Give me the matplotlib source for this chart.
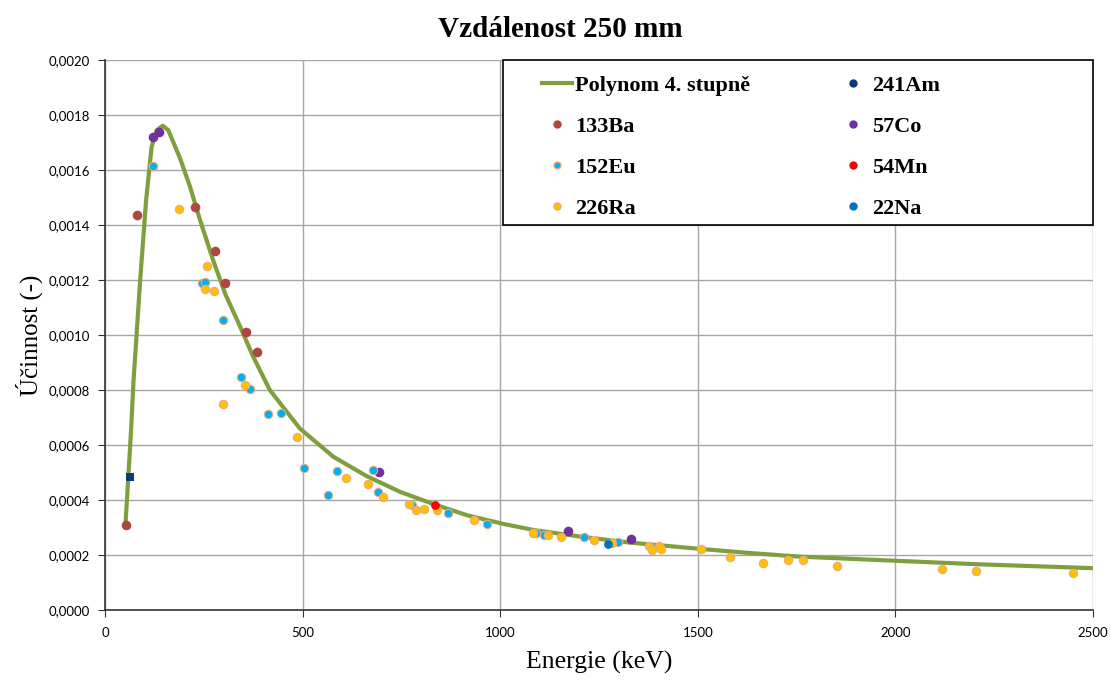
import matplotlib
matplotlib.use('Agg')
import matplotlib.pyplot as plt
from matplotlib.lines import Line2D
from matplotlib.patches import Rectangle
from matplotlib.ticker import FuncFormatter

# Data (energy in keV, efficiency)
ba_e = [53, 81, 227, 279, 304, 357, 385]
ba_eff = [0.000309, 0.001435, 0.001464, 0.001305, 0.00119, 0.001012, 0.000937]

co_e = [122, 137, 694, 1171, 1331]
co_eff = [0.001721, 0.001739, 0.000501, 0.000288, 0.000257]

eu_e = [122, 245, 254, 299, 345, 368, 412, 446, 503, 565, 587, 678, 692,
        778, 868, 966, 1090, 1112, 1213, 1299]
eu_eff = [0.001614, 0.00119, 0.001194, 0.001053, 0.000847, 0.000805, 0.000712,
          0.000715, 0.000517, 0.000418, 0.000505, 0.000508, 0.000429, 0.00038,
          0.000352, 0.000314, 0.000281, 0.000274, 0.000264, 0.000246]

ra_e = [186, 259, 254, 276, 355, 299, 487, 609, 665, 703, 768, 788, 807, 841,
        934, 1084, 1121, 1154, 1237, 1284, 1376, 1384, 1401, 1407, 1509, 1582,
        1664, 1729, 1765, 1851, 2118, 2205, 2450]
ra_eff = [0.001458, 0.00125, 0.001168, 0.001161, 0.000817, 0.00075, 0.000628,
          0.000481, 0.000459, 0.00041, 0.000385, 0.000362, 0.000368, 0.000364,
          0.000326, 0.000281, 0.000274, 0.000267, 0.000255, 0.000245, 0.000233,
          0.000217, 0.000233, 0.000222, 0.000223, 0.000192, 0.000172, 0.000182,
          0.000182, 0.00016, 0.000148, 0.000143, 0.000136]

am_e = [62]
am_eff = [0.000485]
mn_e = [835]
mn_eff = [0.000382]
na_e = [1273]
na_eff = [0.00024]

# 4th degree polynomial trend line
fit_e = [52, 59, 66, 72, 89, 104, 118, 131, 146, 160, 190, 215, 240, 274, 304,
         342, 375, 417, 493, 578, 662, 746, 831, 915, 1008, 1084, 1202, 1328,
         1500, 1624, 1758, 2000, 2214, 2500]
fit_eff = [0.000316, 0.000485, 0.000655, 0.00083, 0.0012, 0.00149, 0.001685,
           0.001745, 0.001761, 0.001745, 0.001642, 0.00154, 0.00142, 0.00127,
           0.00115, 0.00103, 0.000921, 0.0008, 0.00066, 0.000557, 0.000487,
           0.00043, 0.000385, 0.000345, 0.000313, 0.000291, 0.000267, 0.000245,
           0.000223, 0.000208, 0.000194, 0.000179, 0.000166, 0.000152]

serif = 'Liberation Serif'
edge = '#EBA982'

fig = plt.figure(figsize=(11.1, 6.84), dpi=100)
ax = fig.add_axes([0.0946, 0.1082, 0.8901, 0.8041])

ax.plot(fit_e, fit_eff, color='#7F9F3E', lw=3, zorder=2, solid_joinstyle='round')
ax.scatter(ba_e, ba_eff, s=48, color='#AE4642', zorder=3, linewidths=0)
ax.scatter(co_e, co_eff, s=48, color='#7030A0', zorder=3, linewidths=0)
ax.scatter(eu_e, eu_eff, s=36, color='#00B0F0', edgecolors=edge, linewidths=0.8, zorder=3)
ax.scatter(ra_e, ra_eff, s=36, color='#FFC000', edgecolors=edge, linewidths=0.8, zorder=3)
ax.scatter(am_e, am_eff, s=34, color='#0B3A7A', marker='s', zorder=4, linewidths=0)
ax.scatter(mn_e, mn_eff, s=40, color='#FF0000', zorder=4, linewidths=0)
ax.scatter(na_e, na_eff, s=40, color='#0070C0', zorder=4, linewidths=0)

ax.set_xlim(0, 2500)
ax.set_ylim(0, 0.002)
ax.set_xticks(range(0, 2501, 500))
ax.set_yticks([i * 0.0002 for i in range(11)])
ax.yaxis.set_major_formatter(FuncFormatter(lambda v, p: f'{v:.4f}'.replace('.', ',')))
ax.grid(True, color='#A6A6A6', lw=1)
ax.set_axisbelow(True)
for s in ['top', 'right']:
    ax.spines[s].set_visible(False)
for s in ['left', 'bottom']:
    ax.spines[s].set_color('#333333')
    ax.spines[s].set_linewidth(1.2)
ax.tick_params(direction='out', length=5, color='#333333', labelsize=9.5)
ax.tick_params(axis='x', pad=7)
ax.tick_params(axis='y', pad=6)
for lab in ax.get_xticklabels() + ax.get_yticklabels():
    lab.set_fontfamily('Lato')

fig.suptitle('Vzdálenost 250 mm', x=0.505, y=0.976, va='top',
             fontsize=21, fontweight='bold', family=serif)
ax.set_xlabel('Energie (keV)', fontsize=18.5, family=serif, labelpad=9)
ax.set_ylabel('Účinnost (-)', fontsize=18, family=serif, labelpad=4)

# legend box drawn as its own frame
ax.add_patch(Rectangle((0.4028, 0.7), 0.5972, 0.3, transform=ax.transAxes,
                       facecolor='white', edgecolor='black', lw=1.2, zorder=5, clip_on=False))

handles = [
    Line2D([], [], color='#7F9F3E', lw=3),
    Line2D([], [], ls='', marker='o', ms=5, color='#AE4642'),
    Line2D([], [], ls='', marker='o', ms=5, color='#00B0F0', mec=edge),
    Line2D([], [], ls='', marker='o', ms=5, color='#FFC000', mec=edge),
    Line2D([], [], ls='', marker='o', ms=5, color='#0B3A7A'),
    Line2D([], [], ls='', marker='o', ms=5, color='#7030A0'),
    Line2D([], [], ls='', marker='o', ms=5, color='#FF0000'),
    Line2D([], [], ls='', marker='o', ms=5, color='#0070C0'),
]
labels = ['Polynom 4. stupně', '133Ba', '152Eu', '226Ra', '241Am', '57Co', '54Mn', '22Na']
leg = ax.legend(handles, labels, ncol=2, loc='upper left', bbox_to_anchor=(0.442, 0.972),
                frameon=False, borderpad=0, borderaxespad=0, handlelength=1.35,
                handletextpad=0.15, columnspacing=3.97, labelspacing=0.92,
                prop={'family': serif, 'weight': 'bold', 'size': 16})
leg.set_zorder(6)

fig.savefig('out.png', dpi=100)
